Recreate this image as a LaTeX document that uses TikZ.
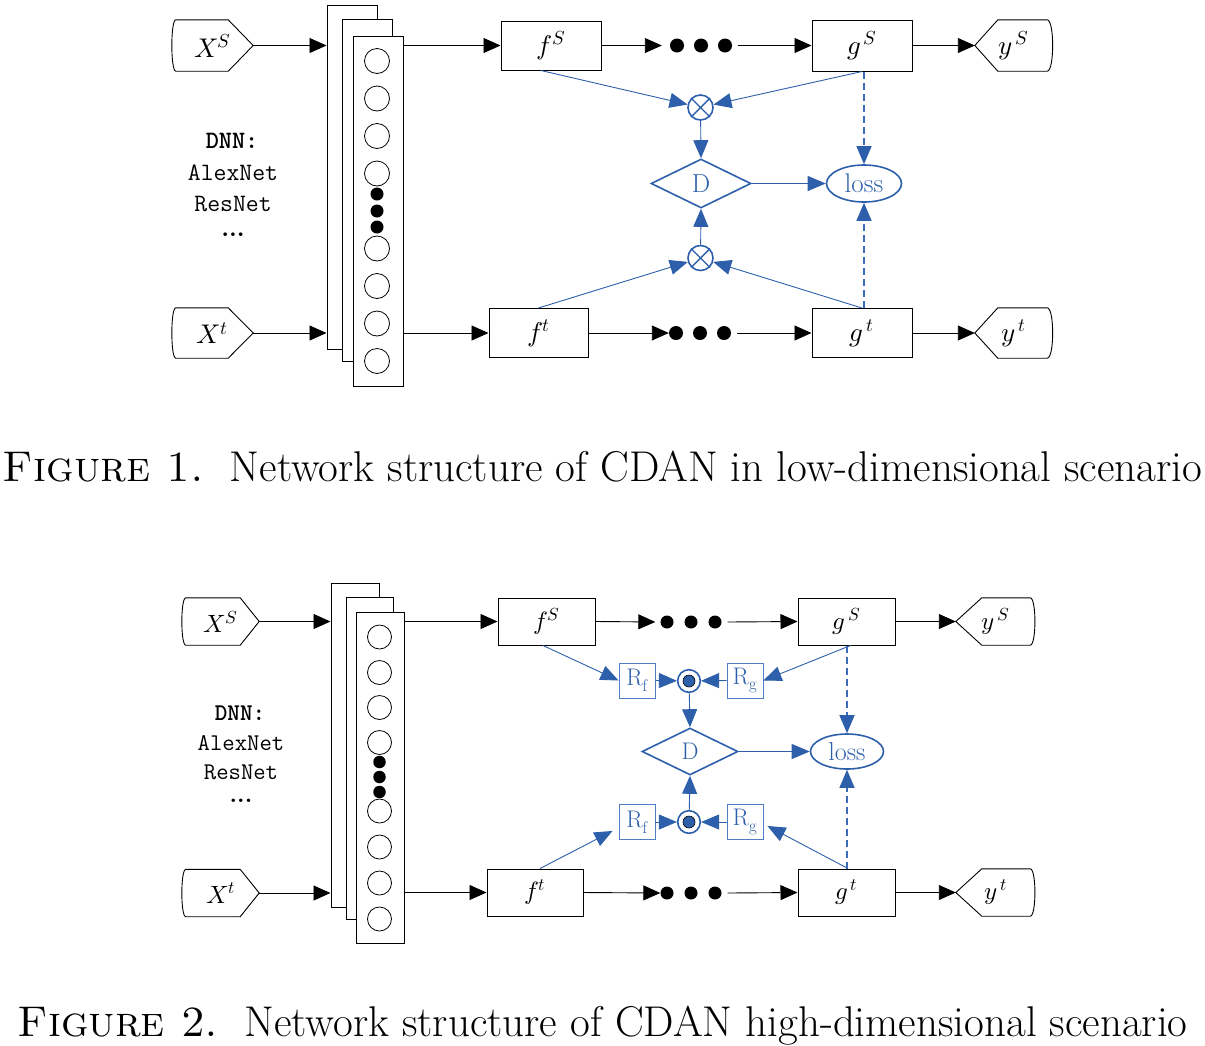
\documentclass[tikz,border=0pt]{standalone}
\usepackage{fontspec}
\usepackage{unicode-math}
\usetikzlibrary{arrows.meta,calc,shapes.geometric}
\definecolor{bl}{RGB}{45,95,170}
\definecolor{bld}{RGB}{60,108,185}
\definecolor{blr}{RGB}{80,125,195}
\newcommand\inshp[2]{\draw[line width=0.9pt] ([xshift=4pt]#1.north west) -- ([xshift=-#2pt]#1.north east) -- (#1.east) -- ([xshift=-#2pt]#1.south east) -- ([xshift=4pt]#1.south west) .. controls ([xshift=-1.3pt]#1.south west) and ([xshift=-1.3pt]#1.north west) .. cycle;}
\newcommand\outshp[3]{\draw[line width=0.9pt] (#1.west) -- ([xshift=#2pt]#1.north west) -- ([xshift=-#3pt]#1.north east) .. controls ([xshift=1.3pt]#1.north east) and ([xshift=1.3pt]#1.south east) .. ([xshift=-#3pt]#1.south east) -- ([xshift=#2pt]#1.south west) -- cycle;}
\tikzset{
 blk/.style={line width=0.9pt,-{Triangle[length=17pt,width=15pt]}},
 bla/.style={draw=bl,line width=0.9pt,-{Triangle[length=18pt,width=15pt,color=bl,fill=bl]}},
 dsh/.style={draw=bld,line width=1.2pt,dash pattern=on 7pt off 4pt,-{Triangle[length=18pt,width=15pt,color=bl,fill=bl]}},
 stk/.style={draw,line width=1pt,fill=white,inner sep=0pt},
 neuron/.style={circle,draw,line width=0.8pt,fill=white,minimum size=25pt,inner sep=0pt},
 ndot/.style={circle,fill=black,minimum size=13pt,inner sep=0pt},
 rdot/.style={circle,fill=black,minimum size=14pt,inner sep=0pt},
 inp/.style={inner sep=0pt},
 fbox/.style={draw,line width=1pt,fill=white,inner sep=0pt},
 otim/.style={circle,draw=bl,line width=1.6pt,minimum size=25pt,inner sep=0pt},
 odt/.style={circle,draw=bl,line width=1.6pt,minimum size=22.6pt,inner sep=0pt},
 idot/.style={circle,draw=black,line width=0.6pt,fill=bl,minimum size=12pt,inner sep=0pt},
 dia/.style={diamond,draw=bl,line width=1.6pt,inner sep=0pt,text=bl},
 lossn/.style={ellipse,draw=bl,line width=1.6pt,inner sep=0pt,text=bl},
 rbox/.style={draw=blr,line width=0.9pt,minimum width=36pt,minimum height=35pt,inner sep=0pt,text=bl,font=\fontsize{24}{26}\selectfont},
 dnn/.style={inner sep=0pt,font=\fontsize{25}{27}\selectfont\ttfamily},
 captxt/.style={anchor=base,font=\fontsize{43}{47}\selectfont},
}
\begin{document}
\begin{tikzpicture}[x=1pt,y=-1pt]
\useasboundingbox (0,0) rectangle (1205,1045);
% ================= FIGURE 1 =================
\node[stk,minimum width=50pt,minimum height=344pt] (a1) at (352,177) {};
\node[stk,minimum width=50pt,minimum height=342pt] (a2) at (367,190) {};
\node[stk,minimum width=50pt,minimum height=350pt] (a3) at (378,211) {};
\foreach \yy [count=\i] in {61,98.5,136,173.5,248.5,286,323.5,361}
  \node[neuron] (an\i) at (377,\yy) {};
\foreach \yy [count=\i] in {194,211,227}
  \node[ndot] (ad\i) at (377,\yy) {};
\node[dnn,font=\fontsize{25}{27}\selectfont\ttfamily\bfseries] (dn1) at (232,141) {DNN:};
\node[dnn] (dn2) at (233,173) {AlexNet};
\node[dnn] (dn3) at (233,204) {ResNet};
\node[inner sep=0pt,font=\fontsize{25}{27}\selectfont\bfseries] (dn4) at (233,235) {...};

\node[inp,minimum width=81pt,minimum height=51pt,font=\fontsize{27}{30}\selectfont] (xs1) at (212.5,45.5) {$X^S$};
\inshp{xs1}{25}
\node[inp,minimum width=81pt,minimum height=50pt,font=\fontsize{27}{30}\selectfont] (xt1) at (212.5,333) {$X^t$};
\inshp{xt1}{25}
\node[inp,minimum width=78pt,minimum height=51pt,font=\fontsize{27}{30}\selectfont] (ys1) at (1014,45.5) {$y^{\,S}$};
\outshp{ys1}{23}{6}
\node[inp,minimum width=78pt,minimum height=50pt,font=\fontsize{27}{30}\selectfont] (yt1) at (1014,333) {$y^{\,t}$};
\outshp{yt1}{23}{6}

\node[fbox,minimum width=100pt,minimum height=49pt,font=\fontsize{27}{30}\selectfont] (fs1) at (551,45.5) {$f^S$};
\node[fbox,minimum width=100pt,minimum height=51pt,font=\fontsize{27}{30}\selectfont] (gs1) at (862,45.5) {$g^{\,S}$};
\node[fbox,minimum width=99pt,minimum height=49pt,font=\fontsize{27}{30}\selectfont] (ft1) at (538.5,333) {$f^t$};
\node[fbox,minimum width=100pt,minimum height=49pt,font=\fontsize{27}{30}\selectfont] (gt1) at (862,333) {$g^{\,t}$};

\node[rdot] (p1) at (677,45.5) {};
\node[rdot] (p2) at (701,45.5) {};
\node[rdot] (p3) at (725,45.5) {};
\node[rdot] (q1) at (676,333) {};
\node[rdot] (q2) at (700,333) {};
\node[rdot] (q3) at (724,333) {};

\draw[blk] (xs1.east) -- (xs1.east -| a1.west);
\draw[blk] (xt1.east) -- (xt1.east -| a1.west);
\draw[blk] (a3.east |- fs1.west) -- (fs1.west);
\draw[blk] (a3.east |- ft1.west) -- (ft1.west);
\draw[blk,shorten >=8pt] (fs1.east) -- (p1.west);
\draw[blk] ([xshift=6pt]p3.east) -- (gs1.west);
\draw[blk] (gs1.east) -- (ys1.west);
\draw[blk] (ft1.east) -- (q1.west);
\draw[blk] ([xshift=6pt]q3.east) -- (gt1.west);
\draw[blk] (gt1.east) -- (yt1.west);

% blue part fig 1
\node[otim] (o1) at (700.5,107.5) {};
\draw[bl,line width=1.4pt] (o1.north east) -- (o1.south west) (o1.north west) -- (o1.south east);
\node[otim] (o2) at (700.5,258) {};
\draw[bl,line width=1.4pt] (o2.north east) -- (o2.south west) (o2.north west) -- (o2.south east);
\node[dia,minimum width=100pt,minimum height=49pt,font=\fontsize{26}{28}\selectfont] (D1) at (701,183.5) {D};
\node[lossn,minimum width=75pt,minimum height=37pt,font=\fontsize{27}{29}\selectfont] (L1) at (864,183.5) {loss};

\draw[bla] ([xshift=-10pt]fs1.south) -- (o1);
\draw[bla] (gs1.south) -- (o1);
\draw[bla] (o1) -- (D1.north);
\draw[bla] (o2) -- (D1.south);
\draw[bla] (D1.east) -- (L1.west);
\draw[bla] (ft1.north) -- (o2);
\draw[bla] (gt1.north) -- (o2);
\draw[dsh] (L1.north |- gs1.south) -- (L1.north);
\draw[dsh] (L1.south |- gt1.north) -- (L1.south);

\node[captxt] (c1) at (602.5,481) {\textsc{Figure 1.}\hspace{0.6em}Network structure of CDAN in low-dimensional scenario};

% ================= FIGURE 2 =================
\node[stk,minimum width=48pt,minimum height=324pt] (b1) at (355,745) {};
\node[stk,minimum width=47pt,minimum height=322pt] (b2) at (369.5,758) {};
\node[stk,minimum width=48pt,minimum height=331pt] (b3) at (380,777.5) {};
\foreach \yy [count=\i] in {637,672.5,707.5,742.5,811,847,883,919}
  \node[neuron,minimum size=24pt] (bn\i) at (379.5,\yy) {};
\foreach \yy [count=\i] in {762,777,792}
  \node[ndot,minimum size=12.5pt] (bd\i) at (379.5,\yy) {};
\node[dnn,font=\fontsize{24}{26}\selectfont\ttfamily\bfseries] (en1) at (240,713) {DNN:};
\node[dnn,font=\fontsize{24}{26}\selectfont\ttfamily] (en2) at (241,743) {AlexNet};
\node[dnn,font=\fontsize{24}{26}\selectfont\ttfamily] (en3) at (241,772) {ResNet};
\node[inner sep=0pt,font=\fontsize{24}{26}\selectfont\bfseries] (en4) at (241,801) {...};

\node[inp,minimum width=77pt,minimum height=47pt,font=\fontsize{25}{28}\selectfont] (xs2) at (220.5,621.5) {$X^S$};
\inshp{xs2}{19}
\node[inp,minimum width=77pt,minimum height=47pt,font=\fontsize{25}{28}\selectfont] (xt2) at (220.5,893) {$X^t$};
\inshp{xt2}{19}
\node[inp,minimum width=79pt,minimum height=47pt,font=\fontsize{25}{28}\selectfont] (ys2) at (995.5,621.5) {$y^{\,S}$};
\outshp{ys2}{26}{5}
\node[inp,minimum width=79pt,minimum height=47pt,font=\fontsize{25}{28}\selectfont] (yt2) at (995.5,892.5) {$y^{\,t}$};
\outshp{yt2}{26}{5}

\node[fbox,minimum width=97pt,minimum height=47pt,font=\fontsize{25}{28}\selectfont] (fs2) at (546.5,621.5) {$f^S$};
\node[fbox,minimum width=97pt,minimum height=47pt,font=\fontsize{25}{28}\selectfont] (gs2) at (846.5,621.5) {$g^{\,S}$};
\node[fbox,minimum width=96pt,minimum height=47pt,font=\fontsize{25}{28}\selectfont] (ft2) at (535,892.5) {$f^t$};
\node[fbox,minimum width=97pt,minimum height=47pt,font=\fontsize{25}{28}\selectfont] (gt2) at (846.5,892.5) {$g^{\,t}$};

\node[rdot,minimum size=13pt] (r1) at (667,622) {};
\node[rdot,minimum size=13pt] (r2) at (691,622) {};
\node[rdot,minimum size=13pt] (r3) at (715,622) {};
\node[rdot,minimum size=13pt] (s1) at (667,893) {};
\node[rdot,minimum size=13pt] (s2) at (691,893) {};
\node[rdot,minimum size=13pt] (s3) at (715,893) {};

\draw[blk] (xs2.east) -- (xs2.east -| b1.west);
\draw[blk] (xt2.east) -- (xt2.east -| b1.west);
\draw[blk] (b3.east |- fs2.west) -- (fs2.west);
\draw[blk] (b3.east |- ft2.west) -- (ft2.west);
\draw[blk,shorten >=5pt] (fs2.east) -- (r1.west);
\draw[blk] ([xshift=6pt]r3.east) -- (gs2.west);
\draw[blk] (gs2.east) -- (ys2.west);
\draw[blk] (ft2.east) -- (s1.west);
\draw[blk] ([xshift=6pt]s3.east) -- (gt2.west);
\draw[blk] (gt2.east) -- (yt2.west);

% blue part fig 2
\node[rbox] (Rf1) at (637,680.5) {$\mathrm{R}_{\mathrm{f}}$};
\node[rbox] (Rg1) at (745,680.5) {$\mathrm{R}_{\mathrm{g}}$};
\node[odt] (od1) at (689,681) {};
\node[idot] (id1) at (od1.center) {};
\node[rbox] (Rf2) at (637,822) {$\mathrm{R}_{\mathrm{f}}$};
\node[rbox] (Rg2) at (745,822) {$\mathrm{R}_{\mathrm{g}}$};
\node[odt] (od2) at (689,822) {};
\node[idot] (id2) at (od2.center) {};
\node[dia,minimum width=96pt,minimum height=47pt,font=\fontsize{24}{26}\selectfont] (D2) at (690,751.5) {D};
\node[lossn,minimum width=73pt,minimum height=35pt,font=\fontsize{26}{28}\selectfont] (L2) at (847,751.5) {loss};

\draw[bla] ([xshift=-3.5pt]fs2.south) -- (Rf1.west);
\draw[bla] ([xshift=4pt]gs2.south) -- (Rg1.east);
\draw[bla] (Rf1.east) -- (od1);
\draw[bla] (Rg1.west) -- (od1);
\draw[bla] (Rf2.east) -- (od2);
\draw[bla] (Rg2.west) -- (od2);
\draw[bla] (od1) -- (D2.north);
\draw[bla] (od2) -- (D2.south);
\draw[bla] (D2.east) -- (L2.west);
\draw[bla] ([xshift=5pt]ft2.north) -- ($(Rf2.south west)+(-6,-9)$);
\draw[bla] ([xshift=1.5pt]gt2.north) -- ($(Rg2.south east)+(4,-14)$);
\draw[dsh] (L2.north |- gs2.south) -- (L2.north);
\draw[dsh] (L2.south |- gt2.north) -- (L2.south);

\node[captxt] (c2) at (602.5,1036) {\textsc{Figure 2.}\hspace{0.6em}Network structure of CDAN high-dimensional scenario};
\end{tikzpicture}
\end{document}
